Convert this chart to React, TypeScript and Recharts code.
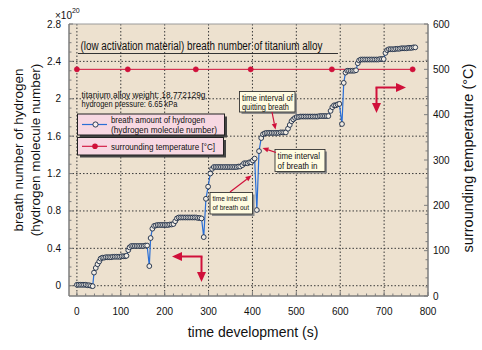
import React from 'react';
import { ComposedChart, Line, XAxis, YAxis, CartesianGrid, ReferenceLine } from 'recharts';

const FONT = '"Liberation Sans", Arial, Helvetica, sans-serif';

// breath amount of hydrogen (x10^20 molecules) vs time (s)
const TIME = [
  0, 4, 8, 12, 16, 20, 24, 28, 32, 36,
  39, 43, 47, 51, 54,
  58, 62, 66, 70, 74, 78, 82, 86, 90, 94, 98, 102, 106, 110, 113,
  117, 120,
  124, 128, 132, 136, 140, 144, 148, 152, 156, 160,
  165,
  168, 172, 176,
  180, 184, 188, 192, 196, 200, 204, 208, 212, 216, 220,
  224, 228,
  232, 236, 240, 244, 248, 252, 256, 260, 264, 268, 272, 276, 280, 284,
  289,
  294, 299, 304, 308,
  312, 316, 320, 324, 328, 332, 336, 340, 344, 348, 352, 356, 360, 364, 368, 372,
  377, 381, 385, 389, 393, 397, 401, 405,
  410,
  415, 420, 424,
  428, 432, 436, 440, 444, 448, 452, 456, 460, 464, 468, 472, 476,
  481, 485, 489, 493, 497,
  501, 505, 509, 513, 517, 521, 525, 529, 533, 537, 541, 545, 549, 553, 557, 561, 565, 569, 573,
  578, 582, 586, 590, 594, 598,
  604,
  608, 612,
  616, 620, 624, 628, 632, 636,
  640, 643,
  647, 651, 655, 659, 663, 667, 671, 675, 679, 683, 687, 691, 695, 699,
  703, 707,
  711, 715, 719, 723, 727, 731, 735, 739, 743, 747, 751, 755, 759, 763, 767, 771,
];
const HYDROGEN = [
  0.01, 0.01, 0.01, 0.01, 0.01, 0.01, 0.005, 0.005, 0.0, -0.005,
  0.14, 0.19, 0.23, 0.26, 0.29,
  0.3, 0.3, 0.305, 0.305, 0.305, 0.305, 0.31, 0.31, 0.31, 0.31, 0.31, 0.315, 0.315, 0.315, 0.32,
  0.38, 0.41,
  0.425, 0.425, 0.425, 0.425, 0.425, 0.425, 0.425, 0.425, 0.43, 0.43,
  0.21,
  0.51, 0.61, 0.64,
  0.645, 0.65, 0.65, 0.65, 0.65, 0.65, 0.65, 0.65, 0.655, 0.655, 0.66,
  0.69, 0.72,
  0.73, 0.73, 0.73, 0.73, 0.73, 0.73, 0.73, 0.73, 0.73, 0.73, 0.73, 0.725, 0.725, 0.72,
  0.52,
  0.93, 1.06, 1.2, 1.25,
  1.27, 1.27, 1.27, 1.27, 1.27, 1.27, 1.27, 1.27, 1.27, 1.27, 1.27, 1.27, 1.27, 1.27, 1.275, 1.275,
  1.29, 1.31, 1.31, 1.31, 1.32, 1.32, 1.34, 1.36,
  0.81,
  1.44, 1.58, 1.62,
  1.63, 1.635, 1.635, 1.635, 1.635, 1.635, 1.635, 1.635, 1.635, 1.64, 1.64, 1.64, 1.64,
  1.68, 1.72, 1.76, 1.78, 1.795,
  1.805, 1.805, 1.81, 1.81, 1.81, 1.81, 1.81, 1.81, 1.81, 1.81, 1.81, 1.81, 1.81, 1.815, 1.815, 1.815, 1.815, 1.815, 1.815,
  1.87, 1.91, 1.93, 1.93, 1.94, 1.945,
  1.73,
  2.17, 2.28,
  2.3, 2.3, 2.3, 2.3, 2.3, 2.305,
  2.38, 2.41,
  2.42, 2.42, 2.42, 2.42, 2.42, 2.42, 2.42, 2.42, 2.42, 2.42, 2.42, 2.425, 2.425, 2.425,
  2.49, 2.52,
  2.53, 2.53, 2.53, 2.53, 2.535, 2.535, 2.535, 2.54, 2.54, 2.54, 2.54, 2.545, 2.545, 2.545, 2.55, 2.55,
];

// surrounding temperature (°C)
const TEMP_TIME = [0, 116, 271, 396, 581, 765];
const TEMP_VALUE = [500, 500, 500, 500, 500, 500];

// axis ticks
const X_MAJOR = [0, 100, 200, 300, 400, 500, 600, 700, 800];
const X_LABELS = ['0', '100', '200', '300', '400', '500', '600', '700', '800'];
const X_ALL = Array.from({ length: 41 }, (_, i) => i * 20);
const LEFT_MAJOR = [0, 0.4, 0.8, 1.2, 1.6, 2, 2.4, 2.8];
const LEFT_LABELS = ['0', '0.4', '0.8', '1.2', '1.6', '2', '2.4', '2.8'];
const LEFT_ALL = Array.from({ length: 29 }, (_, i) => i / 10);
const RIGHT_MAJOR = [0, 100, 200, 300, 400, 500, 600];
const RIGHT_LABELS = ['0', '100', '200', '300', '400', '500', '600'];
const RIGHT_ALL = Array.from({ length: 31 }, (_, i) => i * 20);
const GRID_X = [0, 100, 200, 300, 400, 500, 600, 700];
const GRID_Y = [0, 0.4, 0.8, 1.2, 1.6, 2, 2.4];

const hydrogenData = TIME.map((t, i) => ({ t, v: HYDROGEN[i] }));
const tempData = TEMP_TIME.map((t, i) => ({ t, v: TEMP_VALUE[i] }));

const W = 482;
const H = 350;
const PL = 69;
const PR = 428;
const PB = 296;
const AXIS = '#7d7d7d';
const RED = '#d0103a';
const BLUE = '#2a6fd6';

const findIdx = (arr: number[], v: number) => arr.findIndex((m) => Math.abs(m - v) < 1e-6);

const LeftTick = (p: any) => {
  const v = p.payload.value;
  const y = p.payload.coordinate ?? p.y;
  const idx = findIdx(LEFT_MAJOR, v);
  return (
    <g>
      <line x1={PL} x2={PL + (idx >= 0 ? 4 : 2.5)} y1={y} y2={y} stroke={AXIS} strokeWidth={1} />
      {idx >= 0 && (
        <text x={61} y={y} dy="0.35em" textAnchor="end" fontSize={10} fontFamily={FONT} fill="#111">
          {LEFT_LABELS[idx]}
        </text>
      )}
    </g>
  );
};

const RightTick = (p: any) => {
  const v = p.payload.value;
  const y = p.payload.coordinate ?? p.y;
  const idx = findIdx(RIGHT_MAJOR, v);
  return (
    <g>
      <line x1={PR} x2={PR - (idx >= 0 ? 4 : 2.5)} y1={y} y2={y} stroke={AXIS} strokeWidth={1} />
      {idx >= 0 && (
        <text x={433} y={y} dy="0.35em" textAnchor="start" fontSize={10} fontFamily={FONT} fill="#111">
          {RIGHT_LABELS[idx]}
        </text>
      )}
    </g>
  );
};

const BottomTick = (p: any) => {
  const v = p.payload.value;
  const x = p.payload.coordinate ?? p.x;
  const idx = findIdx(X_MAJOR, v);
  return (
    <g>
      <line x1={x} x2={x} y1={PB} y2={PB - (idx >= 0 ? 4 : 2.5)} stroke={AXIS} strokeWidth={1} />
      {idx >= 0 && (
        <text x={x} y={314.5} textAnchor="middle" fontSize={10} fontFamily={FONT} fill="#111">
          {X_LABELS[idx]}
        </text>
      )}
    </g>
  );
};

const Arrow = ({ x1, y1, x2, y2, w = 1.2, len = 6, half = 2.6 }: any) => {
  const dx = x2 - x1;
  const dy = y2 - y1;
  const L = Math.sqrt(dx * dx + dy * dy);
  const ux = dx / L;
  const uy = dy / L;
  const bx = x2 - ux * len;
  const by = y2 - uy * len;
  const px = -uy * half;
  const py = ux * half;
  return (
    <g>
      <line x1={x1} y1={y1} x2={bx} y2={by} stroke={RED} strokeWidth={w} />
      <polygon points={`${x2},${y2} ${bx + px},${by + py} ${bx - px},${by - py}`} fill={RED} />
    </g>
  );
};

const T = (props: any) => <text fontFamily={FONT} fill="#111" lengthAdjust="spacingAndGlyphs" {...props} />;

const Callout = ({ x, y, w, h, lines, fs, lens }: any) => (
  <g>
    <rect x={x + 2} y={y + 2} width={w} height={h} fill="#8c8c8c" />
    <rect x={x} y={y} width={w} height={h} fill="#fffbe1" stroke="#333" strokeWidth={0.9} />
    {lines.map((s: string, i: number) => (
      <T key={i} x={x + 2.5} y={y + fs + 0.5 + i * (fs + 1.2)} fontSize={fs} textLength={lens[i]}>
        {s}
      </T>
    ))}
  </g>
);

const Overlay = () => (
  <svg width={W} height={H} style={{ position: 'absolute', left: 0, top: 0, pointerEvents: 'none' }}>
    {/* exponent */}
    <text x={55} y={18.5} fontSize={10} fontFamily={FONT} fill="#111">
      ×10<tspan dy={-6} fontSize={7}>20</tspan>
    </text>

    {/* title */}
    <T x={80.5} y={49.5} fontSize={12} textLength={242}>(low activation material) breath number of titanium alloy</T>
    <line x1={78} x2={338} y1={53.5} y2={53.5} stroke="#333" strokeWidth={1} />

    <T x={81.5} y={97.5} fontSize={9.5} textLength={124}>titanium alloy weight: 18.772129g</T>
    <T x={81.5} y={107} fontSize={9.5} textLength={96}>hydrogen pressure: 6.65 kPa</T>

    {/* legend */}
    <rect x={80} y={116.5} width={147} height={21} fill="#444" />
    <rect x={77.5} y={114} width={147} height={21} fill="#f7d8e2" stroke="#222" strokeWidth={1} />
    <line x1={82} x2={107} y1={124.5} y2={124.5} stroke={BLUE} strokeWidth={1.2} />
    <circle cx={95.5} cy={124.5} r={2.6} fill="#f7ecef" stroke="#1b2a44" strokeWidth={0.9} />
    <T x={111} y={122.5} fontSize={9.5} textLength={94}>breath amount of hydrogen</T>
    <T x={111} y={132.5} fontSize={9.5} textLength={106}>(hydrogen molecule number)</T>

    <rect x={80} y={140} width={146} height={17.5} fill="#444" />
    <rect x={77.5} y={137.5} width={146} height={17.5} fill="#f7d8e2" stroke="#222" strokeWidth={1} />
    <line x1={82} x2={107} y1={146.3} y2={146.3} stroke={RED} strokeWidth={1.1} />
    <circle cx={95} cy={146.3} r={2.8} fill={RED} />
    <T x={111} y={149.7} fontSize={9.5} textLength={104}>surrounding temperature [°C]</T>

    {/* callouts */}
    <Callout x={239.5} y={91.5} w={55.5} h={20.5} fs={8.5} lines={['time interval of', 'quitting breath']} lens={[51, 47]} />
    <Arrow x1={272} y1={112} x2={275.5} y2={129.5} />
    <Callout x={275} y={149.5} w={50} h={22} fs={8.8} lines={['time interval', 'of breath in']} lens={[42.5, 40]} />
    <Arrow x1={276} y1={152.5} x2={262.5} y2={148} />
    <Callout x={210} y={192.5} w={42.5} h={21.5} fs={8} lines={['time interval', 'of breath out']} lens={[35, 36.5]} />
    <Arrow x1={230} y1={192} x2={251.5} y2={175.5} />

    {/* axis direction arrows */}
    <Arrow x1={202.5} y1={256.5} x2={172} y2={256.5} w={2} len={10} half={4.5} />
    <Arrow x1={201.5} y1={256.5} x2={201.5} y2={282} w={2} len={10} half={4.5} />
    <Arrow x1={375.5} y1={87.5} x2={406} y2={87.5} w={2} len={10} half={4.5} />
    <Arrow x1={376.5} y1={87.5} x2={376.5} y2={113} w={2} len={10} half={4.5} />

    {/* axis titles */}
    <T x={253} y={337} fontSize={14} textAnchor="middle">time development (s)</T>
    <T transform="translate(18,150) rotate(-90)" x={0} y={0} fontSize={13.5} textAnchor="middle" dominantBaseline="central">breath number of hydrogen</T>
    <T transform="translate(35,150) rotate(-90)" x={0} y={0} fontSize={13.5} textAnchor="middle" dominantBaseline="central">(hydrogen molecule number)</T>
    <T transform="translate(468,158) rotate(-90)" x={0} y={0} fontSize={14.5} textAnchor="middle" dominantBaseline="central">surrounding temperature (°C)</T>
  </svg>
);

export default function App() {
  return (
    <div style={{ position: 'absolute', left: 0, top: 0, width: W, height: H, background: '#fff', fontFamily: FONT }}>
      <ComposedChart width={W} height={H} margin={{ top: 24, right: 14, bottom: 24, left: 9 }}>
        <CartesianGrid
          yAxisId="left"
          fill="#ede1cf"
          fillOpacity={1}
          stroke="#3a3a3a"
          strokeDasharray="1.5 2"
          horizontalValues={GRID_Y}
          verticalValues={GRID_X}
        />
        <XAxis
          dataKey="t"
          type="number"
          domain={[-18, 800]}
          ticks={X_ALL}
          interval={0}
          allowDataOverflow
          height={30}
          tickLine={false}
          axisLine={{ stroke: AXIS, strokeWidth: 1.5 }}
          tick={BottomTick}
        />
        <YAxis
          yAxisId="left"
          orientation="left"
          type="number"
          domain={[-0.11, 2.8]}
          ticks={LEFT_ALL}
          interval={0}
          allowDataOverflow
          width={60}
          tickLine={false}
          axisLine={{ stroke: AXIS, strokeWidth: 1.5 }}
          tick={LeftTick}
        />
        <YAxis
          yAxisId="right"
          orientation="right"
          type="number"
          domain={[0, 600]}
          ticks={RIGHT_ALL}
          interval={0}
          allowDataOverflow
          width={40}
          tickLine={false}
          axisLine={{ stroke: AXIS, strokeWidth: 1.5 }}
          tick={RightTick}
        />
        <ReferenceLine yAxisId="left" y={2.8} stroke="#9a9a9a" strokeWidth={1} />
        <Line
          yAxisId="right"
          data={tempData}
          dataKey="v"
          type="linear"
          stroke={RED}
          strokeWidth={1}
          dot={{ r: 2.6, fill: RED, stroke: RED, strokeWidth: 0.5 }}
          isAnimationActive={false}
        />
        <Line
          yAxisId="left"
          data={hydrogenData}
          dataKey="v"
          type="linear"
          stroke={BLUE}
          strokeWidth={1.2}
          dot={{ r: 2.4, fill: '#f1ece4', stroke: '#1b2a44', strokeWidth: 0.9 }}
          isAnimationActive={false}
        />
      </ComposedChart>
      <Overlay />
    </div>
  );
}
